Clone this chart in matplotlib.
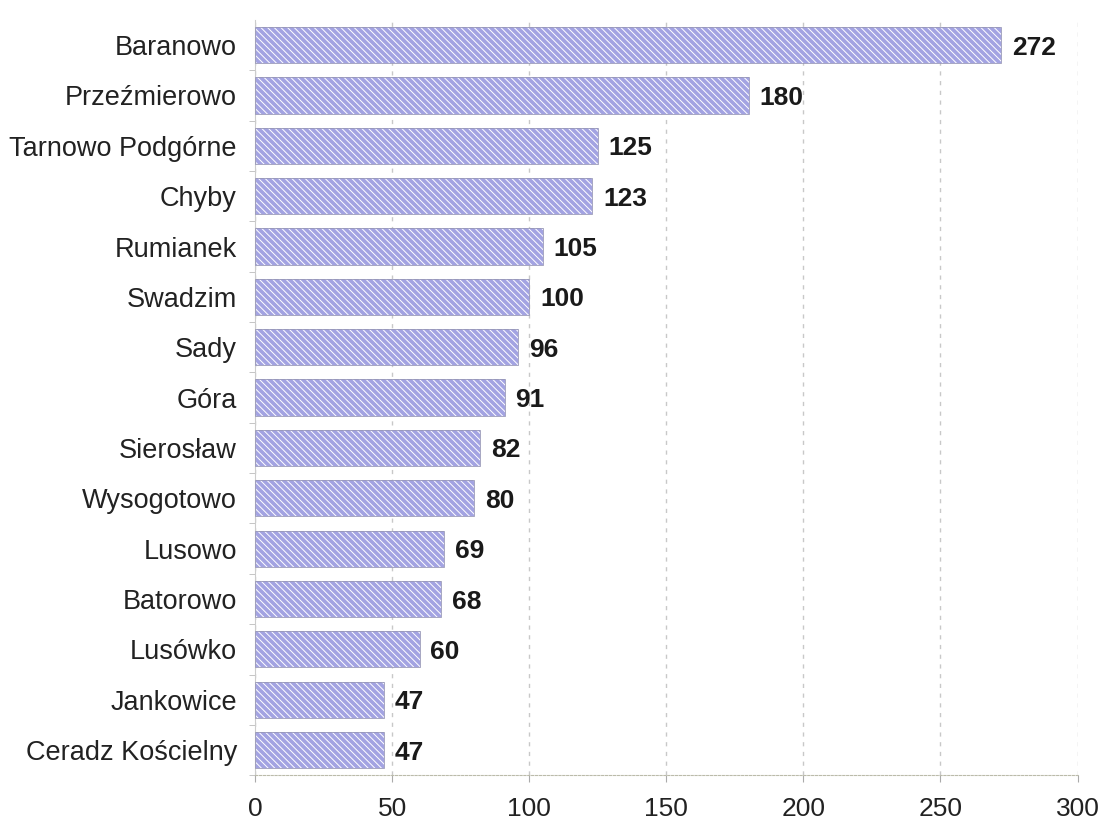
import matplotlib
matplotlib.use('Agg')
import matplotlib.pyplot as plt
from matplotlib.ticker import FixedLocator

plt.rcParams['font.family'] = ['Liberation Sans', 'DejaVu Sans']
plt.rcParams['hatch.linewidth'] = 0.7

# Data
villages = ['Baranowo', 'Przeźmierowo', 'Tarnowo Podgórne', 'Chyby', 'Rumianek',
            'Swadzim', 'Sady', 'Góra', 'Sierosław', 'Wysogotowo', 'Lusowo',
            'Batorowo', 'Lusówko', 'Jankowice', 'Ceradz Kościelny']
counts = [272, 180, 125, 123, 105, 100, 96, 91, 82, 80, 69, 68, 60, 47, 47]
x_ticks = [0, 50, 100, 150, 200, 250, 300]

fig = plt.figure(figsize=(11.04, 8.3), dpi=100)
ax = fig.add_axes([0.231, 0.066, 0.745, 0.91])

pos = list(range(len(villages)))

# bars: lavender fill with white diagonal hatch, thin grey outline
ax.barh(pos, counts, height=0.72, color='#a3a3e2', edgecolor='white',
        hatch='\\\\\\\\\\', linewidth=0, zorder=2)
ax.barh(pos, counts, height=0.72, fill=False, edgecolor='#9898b8',
        linewidth=0.6, zorder=3)

for p, v in zip(pos, counts):
    ax.text(v + 4, p + 0.05, str(v), va='center', ha='left', fontsize=19,
            fontweight='bold', color='#1a1a1a')

ax.set_xlim(0, 300)
ax.set_ylim(len(villages) - 0.5, -0.5)
ax.set_yticks(pos)
ax.set_yticklabels(villages, fontsize=19.5, color='#222222')
ax.yaxis.set_minor_locator(FixedLocator([p + 0.5 for p in pos]))
ax.tick_params(axis='y', which='major', length=0, pad=13)
ax.tick_params(axis='y', which='minor', length=4, color='#bbbbbb')

ax.set_xticks(x_ticks)
ax.set_xticklabels([str(t) for t in x_ticks], fontsize=19, color='#222222')
ax.tick_params(axis='x', length=5, color='#aaaaaa', pad=11)

ax.grid(axis='x', linestyle=(0, (3, 4)), color='#c8c8c8', linewidth=1, zorder=0)

for s in ['top', 'right']:
    ax.spines[s].set_visible(False)
ax.spines['left'].set_color('#cccccc')
ax.spines['bottom'].set_color('#bbbbaa')
ax.spines['bottom'].set_linestyle((0, (2, 1.5)))

fig.savefig('out.png', dpi=100, facecolor='white')
